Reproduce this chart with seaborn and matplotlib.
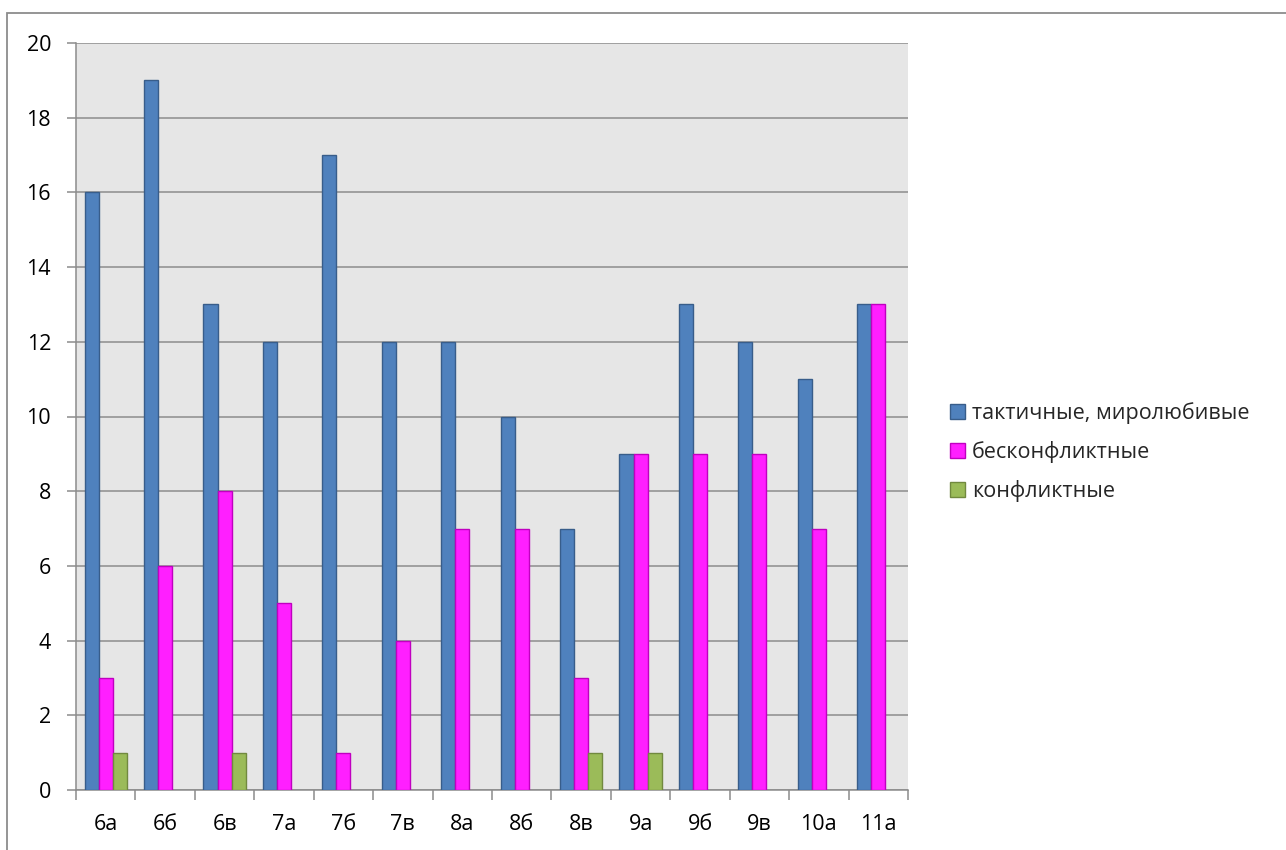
import matplotlib.pyplot as plt
import matplotlib.patches as mpatches
import pandas as pd
import seaborn as sns

classes = ['6а', '6б', '6в', '7а', '7б', '7в', '8а', '8б', '8в', '9а', '9б', '9в', '10а', '11а']
series = ['тактичные, миролюбивые', 'бесконфликтные', 'конфликтные']
tactful = [16, 19, 13, 12, 17, 12, 12, 10, 7, 9, 13, 12, 11, 13]
no_conflict = [3, 6, 8, 5, 1, 4, 7, 7, 3, 9, 9, 9, 7, 13]
conflict = [1, 0, 1, 0, 0, 0, 0, 0, 1, 1, 0, 0, 0, 0]

fills = ['#4f81bd', '#ff1fff', '#9bbb59']
edges = ['#385d8a', '#c000c0', '#71893f']

df = pd.DataFrame({
    'class': classes * 3,
    'series': [series[0]] * 14 + [series[1]] * 14 + [series[2]] * 14,
    'value': tactful + no_conflict + conflict,
})

sns.set_theme(style='white')
plt.rcParams['font.family'] = ['Open Sans', 'DejaVu Sans']
fs = 15.5

fig = plt.figure(figsize=(12.86, 8.5), dpi=100)
ax = fig.add_axes([76 / 1286, 1 - 790 / 850, (908 - 76) / 1286, (790 - 43) / 850])

sns.barplot(data=df, x='class', y='value', hue='series', order=classes,
            hue_order=series, palette=fills, saturation=1, width=0.71, gap=0,
            legend=False, ax=ax, zorder=3)

for cont, ec in zip(ax.containers, edges):
    for bar in cont:
        bar.set_edgecolor(ec)
        bar.set_linewidth(1.0)
        if bar.get_height() == 0:
            bar.set_visible(False)

ax.set_facecolor('#e6e6e6')
ax.set_xlim(-0.5, len(classes) - 0.5)
ax.set_ylim(0, 20)
ax.set_yticks(range(0, 21, 2))
ax.yaxis.grid(True, color='#8c8c8c', linewidth=1.1, zorder=1)
ax.set_axisbelow(True)
ax.set_xlabel('')
ax.set_ylabel('')

for side in ['top', 'right']:
    ax.spines[side].set_visible(False)
for side in ['left', 'bottom']:
    ax.spines[side].set_color('#8c8c8c')
    ax.spines[side].set_linewidth(1.1)

ax.set_xticks([i - 0.5 for i in range(len(classes) + 1)], minor=True)
ax.tick_params(axis='x', which='major', length=0, pad=17, labelsize=fs, labelcolor='black')
ax.tick_params(axis='x', which='minor', length=7, width=1.1, color='#8c8c8c', bottom=True)
ax.tick_params(axis='y', which='major', length=6.5, width=1.1, color='#8c8c8c', left=True,
               pad=11.5, labelsize=fs, labelcolor='black')

handles = [mpatches.Patch(facecolor=f, edgecolor=e, label=s)
           for f, e, s in zip(fills, edges, series)]
fig.legend(handles=handles, loc='center left', bbox_to_anchor=(931 / 1286, 1 - 452 / 850),
           frameon=False, fontsize=fs, handlelength=0.7, handleheight=0.7,
           handletextpad=0.3, labelspacing=0.78)

fig.patches.append(mpatches.Rectangle((7 / 1286, -0.05), 1.2, 1 - 13 / 850 + 0.05,
                                      transform=fig.transFigure, fill=False,
                                      edgecolor='#8c8c8c', linewidth=1.3))

fig.savefig('out.png', dpi=100)
